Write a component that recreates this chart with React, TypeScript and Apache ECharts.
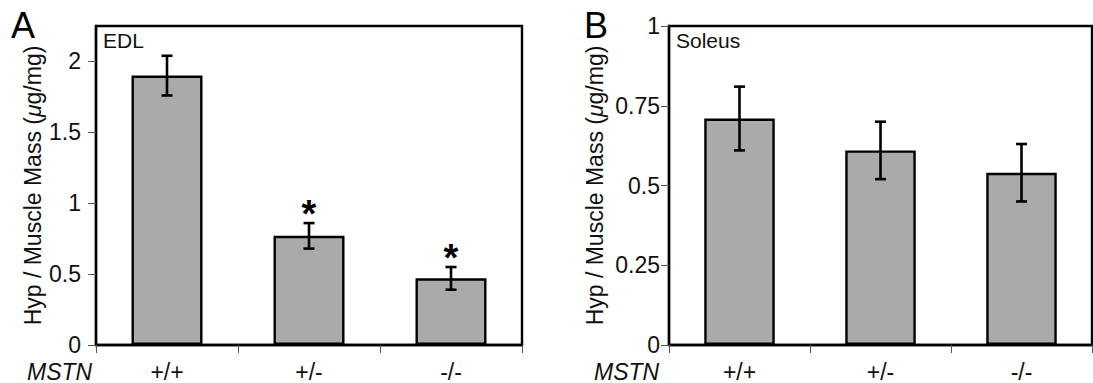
import React, { useEffect, useRef } from "react";
import * as echarts from "echarts";

const categories = ["+/+", "+/-", "-/-"];
const edlMeans = [1.9, 0.77, 0.47];
const edlErrors = [0.14, 0.09, 0.08];
const edlSignificant = [0, 1, 1];
const soleusMeans = [0.71, 0.61, 0.54];
const soleusErrors = [0.1, 0.09, 0.09];
const soleusSignificant = [0, 0, 0];
const edlTicks = [0, 0.5, 1, 1.5, 2];
const soleusTicks = [0, 0.25, 0.5, 0.75, 1];

const FONT = "'Liberation Sans', Arial, Helvetica, sans-serif";
const TEXT = "#111";
const FS = 23;

function errorRender(params: any, api: any) {
  const x = api.value(0);
  const mean = api.value(1);
  const e = api.value(2);
  const sig = api.value(3);
  const top = api.coord([x, mean + e]);
  const bot = api.coord([x, mean - e]);
  const cap = 5.5;
  const style = { stroke: "#000", lineWidth: 2.6 };
  const children: any[] = [
    { type: "line", shape: { x1: top[0], y1: top[1], x2: bot[0], y2: bot[1] }, style },
    { type: "line", shape: { x1: top[0] - cap, y1: top[1], x2: top[0] + cap, y2: top[1] }, style },
    { type: "line", shape: { x1: bot[0] - cap, y1: bot[1], x2: bot[0] + cap, y2: bot[1] }, style },
  ];
  if (sig) {
    children.push({
      type: "text",
      x: top[0],
      y: top[1] - 9,
      style: {
        text: "*",
        fontSize: 38,
        fontWeight: "bold",
        fontFamily: FONT,
        fill: "#000",
        align: "center",
        verticalAlign: "middle",
      },
    });
  }
  return { type: "group", children };
}

function yAxisFor(gridIndex: number, max: number, interval: number, ticks: number[]) {
  return {
    type: "value",
    gridIndex,
    min: 0,
    max,
    interval,
    name: "{n|Hyp / Muscle Mass (}{i|μ}{n|g/mg)}",
    nameLocation: "middle",
    nameRotate: 90,
    nameGap: gridIndex === 0 ? 52 : 63,
    nameTextStyle: {
      rich: {
        n: { fontSize: FS, fontFamily: FONT, color: TEXT },
        i: { fontSize: FS, fontFamily: FONT, color: TEXT, fontStyle: "italic" },
      },
    },
    axisLine: { show: true, lineStyle: { color: "#000", width: 2.4 } },
    axisTick: { show: true, length: 8, inside: false, customValues: ticks, lineStyle: { color: "#555", width: 1 } },
    axisLabel: { fontSize: FS, fontFamily: FONT, color: TEXT, margin: gridIndex === 0 ? 15 : 9, customValues: ticks },
    splitLine: { show: false },
  };
}

function xAxisFor(gridIndex: number) {
  return {
    type: "category",
    gridIndex,
    data: categories,
    axisLine: { show: true, lineStyle: { color: "#000", width: 2.4 } },
    axisTick: { show: true, length: 8, lineStyle: { color: "#555", width: 1 } },
    axisLabel: { fontSize: FS, fontFamily: FONT, color: TEXT, margin: 15 },
  };
}

export default function App() {
  const ref = useRef<HTMLDivElement>(null);
  useEffect(() => {
    if (!ref.current) return;
    const chart = echarts.init(ref.current, null, { renderer: "svg" });
    const gridBase = { show: true, borderColor: "#000", borderWidth: 2.4, backgroundColor: "transparent", containLabel: false };
    chart.setOption({
      animation: false,
      backgroundColor: "#fff",
      grid: [
        { ...gridBase, left: 96, top: 26, width: 426, height: 319 },
        { ...gridBase, left: 669, top: 26, width: 423, height: 319 },
      ],
      xAxis: [xAxisFor(0), xAxisFor(1)],
      yAxis: [yAxisFor(0, 2.25, 0.5, edlTicks), yAxisFor(1, 1, 0.25, soleusTicks)],
      series: [
        {
          type: "bar",
          xAxisIndex: 0,
          yAxisIndex: 0,
          data: edlMeans,
          barWidth: "50%",
          itemStyle: { color: "#aaaaaa", borderColor: "#000", borderWidth: 2.4 },
        },
        {
          type: "custom",
          xAxisIndex: 0,
          yAxisIndex: 0,
          renderItem: errorRender,
          encode: { x: 0, y: 1 },
          data: edlMeans.map((m, i) => [i, m, edlErrors[i], edlSignificant[i]]),
          z: 5,
        },
        {
          type: "bar",
          xAxisIndex: 1,
          yAxisIndex: 1,
          data: soleusMeans,
          barWidth: "50%",
          itemStyle: { color: "#aaaaaa", borderColor: "#000", borderWidth: 2.4 },
        },
        {
          type: "custom",
          xAxisIndex: 1,
          yAxisIndex: 1,
          renderItem: errorRender,
          encode: { x: 0, y: 1 },
          data: soleusMeans.map((m, i) => [i, m, soleusErrors[i], soleusSignificant[i]]),
          z: 5,
        },
      ],
      graphic: [
        { type: "text", left: 11, top: 7, style: { text: "A", fontSize: 36, fontFamily: FONT, fill: "#000" } },
        { type: "text", left: 584, top: 7, style: { text: "B", fontSize: 36, fontFamily: FONT, fill: "#000" } },
        { type: "text", left: 103, top: 30, style: { text: "EDL", fontSize: 21, fontFamily: FONT, fill: TEXT } },
        { type: "text", left: 676, top: 30, style: { text: "Soleus", fontSize: 21, fontFamily: FONT, fill: TEXT } },
        { type: "text", left: 27, top: 360, style: { text: "MSTN", fontSize: FS, fontStyle: "italic", fontFamily: FONT, fill: TEXT } },
        { type: "text", left: 594, top: 360, style: { text: "MSTN", fontSize: FS, fontStyle: "italic", fontFamily: FONT, fill: TEXT } },
      ],
    });
    return () => chart.dispose();
  }, []);
  return <div ref={ref} style={{ position: "fixed", left: 0, top: 0, width: 1093, height: 383 }} />;
}
